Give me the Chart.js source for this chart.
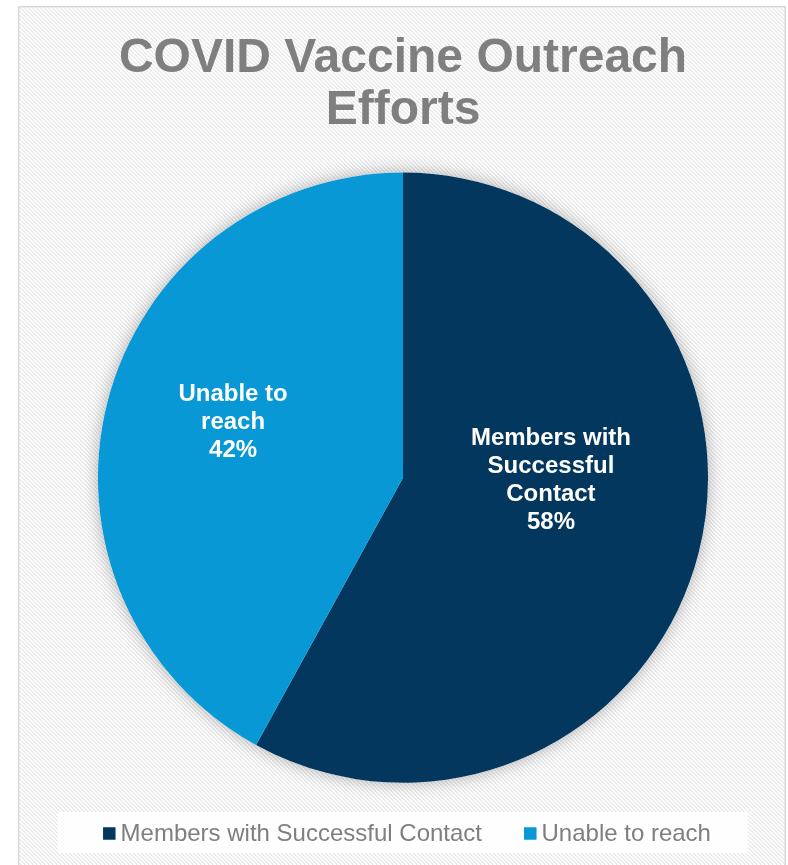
<!DOCTYPE html>
<html>
<head>
<meta charset="utf-8">
<title>COVID Vaccine Outreach Efforts</title>
<script src="https://cdn.jsdelivr.net/npm/chart.js@4.4.1/dist/chart.umd.min.js"></script>
<style>
  html, body { margin: 0; padding: 0; background: #ffffff; }
  #wrap { width: 788px; height: 865px; position: relative; }
</style>
</head>
<body>
<div id="wrap"><canvas id="chart" width="788" height="865"></canvas></div>
<script>
// Outreach results
const categories = ['Members with Successful Contact', 'Unable to reach'];
const sliceLabels = [['Members with', 'Successful', 'Contact'], ['Unable to', 'reach']];
const shares = [58, 42];
const sliceColors = ['#04375E', '#0898D5'];

const FONT = "'Liberation Sans', Arial, Helvetica, sans-serif";

// Light diagonal hatch used for the chart background
function makeHatch() {
  const c = document.createElement('canvas');
  c.width = 4; c.height = 4;
  const g = c.getContext('2d');
  g.fillStyle = '#ffffff';
  g.fillRect(0, 0, 4, 4);
  for (let i = 0; i < 4; i++) {
    g.fillStyle = '#e6e6e6';
    g.fillRect(i, i, 1, 1);
    g.fillStyle = '#f2f2f2';
    g.fillRect((i + 1) % 4, i, 1, 1);
  }
  return c;
}

const backgroundPlugin = {
  id: 'hatchBackground',
  beforeDraw(chart) {
    const ctx = chart.ctx;
    ctx.save();
    ctx.fillStyle = '#ffffff';
    ctx.fillRect(0, 0, chart.width, chart.height);
    ctx.fillStyle = ctx.createPattern(makeHatch(), 'repeat');
    ctx.fillRect(19, 7, 766, chart.height);
    ctx.strokeStyle = '#d9d9d9';
    ctx.lineWidth = 1.5;
    ctx.strokeRect(18.75, 6.75, 766.5, chart.height + 10);
    ctx.restore();
  }
};

// Soft shadow behind the whole pie
const pieShadowPlugin = {
  id: 'pieShadow',
  beforeDatasetsDraw(chart) {
    const arc = chart.getDatasetMeta(0).data[0];
    if (!arc) return;
    const ctx = chart.ctx;
    ctx.save();
    ctx.shadowColor = 'rgba(0,0,0,0.30)';
    ctx.shadowBlur = 18;
    ctx.fillStyle = '#ffffff';
    ctx.beginPath();
    ctx.arc(arc.x, arc.y, arc.outerRadius, 0, Math.PI * 2);
    ctx.fill();
    ctx.restore();
  }
};

// Category name and percentage written inside each slice
const sliceLabelPlugin = {
  id: 'sliceLabels',
  afterDatasetsDraw(chart, args, opts) {
    const meta = chart.getDatasetMeta(0);
    const data = chart.data.datasets[0].data;
    const total = data.reduce((a, b) => a + b, 0);
    const ctx = chart.ctx;
    ctx.save();
    ctx.fillStyle = '#ffffff';
    ctx.font = 'bold 24px ' + FONT;
    ctx.textAlign = 'center';
    ctx.textBaseline = 'middle';
    meta.data.forEach((arc, i) => {
      const lines = sliceLabels[i].concat([Math.round(data[i] / total * 100) + '%']);
      const off = opts.offsets[i];
      const cx = arc.x + off[0] * arc.outerRadius;
      const cy = arc.y + off[1] * arc.outerRadius;
      const lh = opts.lineHeight;
      const y0 = cy - (lines.length - 1) * lh / 2;
      lines.forEach((t, k) => ctx.fillText(t, cx, y0 + k * lh));
    });
    ctx.restore();
  }
};

// Legend row on a white panel under the pie
const bottomLegendPlugin = {
  id: 'bottomLegend',
  afterDraw(chart, args, opts) {
    const ctx = chart.ctx;
    const ds = chart.data.datasets[0];
    ctx.save();
    ctx.font = '24px ' + FONT;
    const box = 12.5, gap = 5, itemGap = 42;
    const widths = chart.data.labels.map(l => box + gap + ctx.measureText(l).width);
    const total = widths.reduce((a, b) => a + b, 0) + itemGap * (widths.length - 1);
    const cx = (chart.chartArea.left + chart.chartArea.right) / 2 + 4;
    let x = cx - total / 2;
    const y = opts.y;
    ctx.fillStyle = 'rgba(255,255,255,0.88)';
    ctx.fillRect(x - 45, y - 21.5, total + 82, 41);
    ctx.textBaseline = 'middle';
    ctx.textAlign = 'left';
    chart.data.labels.forEach((l, i) => {
      ctx.fillStyle = ds.backgroundColor[i];
      ctx.fillRect(x, y - box / 2, box, box);
      ctx.fillStyle = '#7f7f7f';
      ctx.fillText(l, x + box + gap, y + 1);
      x += widths[i] + itemGap;
    });
    ctx.restore();
  }
};

new Chart(document.getElementById('chart'), {
  type: 'pie',
  data: {
    labels: categories,
    datasets: [{
      data: shares,
      backgroundColor: sliceColors,
      borderWidth: 0,
      hoverOffset: 0
    }]
  },
  options: {
    responsive: false,
    animation: false,
    events: [],
    layout: { padding: { left: 18, right: 0, top: 0, bottom: 82.3 } },
    plugins: {
      legend: { display: false },
      tooltip: { enabled: false },
      title: {
        display: true,
        text: ['COVID Vaccine Outreach', 'Efforts'],
        color: '#7f7f7f',
        font: { family: FONT, size: 48, weight: 'bold', lineHeight: 1.1 },
        padding: { top: 32, bottom: 35 }
      },
      sliceLabels: {
        offsets: [[0.485, 0.01], [-0.557, -0.181]],
        lineHeight: 28
      },
      bottomLegend: { y: 833.5 }
    }
  },
  plugins: [backgroundPlugin, pieShadowPlugin, sliceLabelPlugin, bottomLegendPlugin]
});
</script>
</body>
</html>
